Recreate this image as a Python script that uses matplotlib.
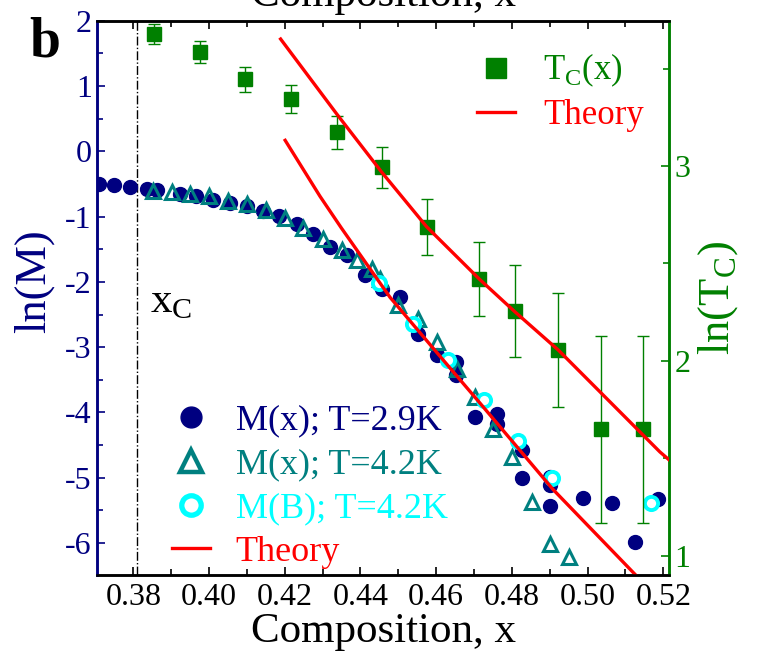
import matplotlib
matplotlib.use("Agg")
import matplotlib.pyplot as plt
from matplotlib.lines import Line2D
from matplotlib.ticker import MultipleLocator

plt.rcParams['font.family'] = ['Liberation Serif', 'DejaVu Serif']
plt.rcParams['mathtext.fontset'] = 'custom'
plt.rcParams['mathtext.rm'] = 'Liberation Serif'
plt.rcParams['axes.unicode_minus'] = False

# M(x) at T = 2.9 K
x_m29 = [0.3708, 0.3749, 0.3791, 0.3835, 0.3862, 0.3923, 0.3966, 0.4011, 0.4054,
         0.4100, 0.4143, 0.4185, 0.4232, 0.4275, 0.4320, 0.4364, 0.4412, 0.4456,
         0.4504, 0.4553, 0.4601, 0.4652, 0.4652, 0.4703, 0.4760, 0.4760, 0.4826,
         0.4826, 0.4901, 0.4901, 0.4901, 0.4987, 0.5064, 0.5125, 0.5187]
lnm_29 = [-0.495, -0.521, -0.547, -0.574, -0.597, -0.648, -0.685, -0.740, -0.792,
          -0.842, -0.919, -0.995, -1.107, -1.260, -1.466, -1.593, -1.899, -2.103,
          -2.231, -2.792, -3.124, -3.227, -3.430, -4.069, -4.017, -4.170, -4.579,
          -4.997, -4.988, -5.115, -5.432, -5.303, -5.386, -5.983, -5.319]

# M(x) at T = 4.2 K
x_m42 = [0.3851, 0.3901, 0.3950, 0.4000, 0.4049, 0.4100, 0.4150, 0.4201, 0.4249,
         0.4302, 0.4350, 0.4390, 0.4430, 0.4452, 0.4500, 0.4553, 0.4601, 0.4654,
         0.4703, 0.4751, 0.4800, 0.4852, 0.4901, 0.4951]
lnm_42 = [-0.613, -0.623, -0.648, -0.685, -0.761, -0.812, -0.904, -1.018, -1.172,
          -1.337, -1.516, -1.669, -1.796, -1.949, -2.358, -2.562, -2.920, -3.328,
          -3.763, -4.247, -4.681, -5.371, -6.008, -6.213]

# M(B) at T = 4.2 K
x_mb = [0.4448, 0.4540, 0.4632, 0.4726, 0.4817, 0.4907, 0.5167]
lnm_b = [-2.014, -2.639, -3.200, -3.813, -4.441, -4.997, -5.380]

# Tc(x) with error bars (right axis)
x_tc = [0.3855, 0.3976, 0.4095, 0.4217, 0.4338, 0.4456, 0.4575, 0.4714,
        0.4808, 0.4923, 0.5035, 0.5147]
lntc = [3.678, 3.587, 3.445, 3.345, 3.173, 2.993, 2.688, 2.420,
        2.256, 2.055, 1.650, 1.650]
lntc_err = [0.05, 0.057, 0.066, 0.073, 0.086, 0.106, 0.144, 0.19,
            0.234, 0.294, 0.48, 0.48]

# theory curves
x_th_m = [0.4201, 0.4293, 0.4350, 0.4478, 0.4601, 0.4716, 0.4909, 0.5127]
lnm_th = [0.168, -0.689, -1.179, -2.236, -3.078, -3.859, -5.181, -6.49]
x_th_tc = [0.4189, 0.4337, 0.4456, 0.4575, 0.4714, 0.4808, 0.4923, 0.5191, 0.5216]
lntc_th = [3.652, 3.268, 2.969, 2.688, 2.420, 2.252, 2.055, 1.533, 1.491]

x_crit = 0.381

navy = '#000080'
teal = '#008080'
cyan = '#00ffff'
green = '#008000'
red = '#ff0000'

fig = plt.figure(figsize=(7.57, 6.64), dpi=100)
ax = fig.add_axes([0.1277, 0.134, 0.7565, 0.8348])
ax2 = ax.twinx()

ax.axvline(x_crit, color='black', lw=1, ls='-.', zorder=1)
ax.plot(x_m29, lnm_29, 'o', color=navy, ms=10, zorder=3)
ax.plot(x_m42, lnm_42, '^', mfc='none', mec=teal, mew=2.2, ms=10.5, zorder=4)
ax.plot(x_mb, lnm_b, 'o', mfc='white', mec=cyan, mew=2.8, ms=9.5, zorder=5)
ax.plot(x_th_m, lnm_th, '-', color=red, lw=2.4, zorder=6)

ax2.errorbar(x_tc, lntc, yerr=lntc_err, fmt='s', color=green, ms=9.5,
             ecolor=green, elinewidth=1, capsize=4, capthick=1, zorder=3)
ax2.plot(x_th_tc, lntc_th, '-', color=red, lw=2.4, zorder=6)

ax.set_xlim(0.3703, 0.5216)
ax.set_ylim(-6.49, 2.0)
ax2.set_ylim(0.901, 3.746)

ax.xaxis.set_minor_locator(MultipleLocator(0.01))
ax.yaxis.set_major_locator(MultipleLocator(1))
ax.yaxis.set_minor_locator(MultipleLocator(0.5))
ax2.yaxis.set_major_locator(MultipleLocator(1))
ax2.yaxis.set_minor_locator(MultipleLocator(0.5))
ax.set_xticks([0.38, 0.40, 0.42, 0.44, 0.46, 0.48, 0.50, 0.52])
ax.set_xticklabels(['0.38', '0.40', '0.42', '0.44', '0.46', '0.48', '0.50', '0.52'])

ax.tick_params(axis='x', which='both', direction='in', top=True, labelsize=23,
               colors='black', pad=6)
ax.tick_params(axis='x', which='major', length=6, width=1.2)
ax.tick_params(axis='x', which='minor', length=4, width=1.2)
ax.tick_params(axis='y', which='both', direction='in', colors=navy, labelsize=23)
ax.tick_params(axis='y', which='major', length=6, width=1.2)
ax.tick_params(axis='y', which='minor', length=4, width=1.2)
ax2.tick_params(axis='y', which='both', direction='in', colors=green, labelsize=23)
ax2.tick_params(axis='y', which='major', length=6, width=1.2)
ax2.tick_params(axis='y', which='minor', length=4, width=1.2)

for a in (ax, ax2):
    a.spines['left'].set_color(navy)
    a.spines['right'].set_color(green)
    a.spines['top'].set_color('black')
    a.spines['bottom'].set_color('black')
    for s in a.spines.values():
        s.set_linewidth(1.8)

ax.set_xlabel('Composition, x', fontsize=31, labelpad=0)
ax.set_ylabel('ln(M)', fontsize=32, color=navy)
ax.yaxis.set_label_coords(-0.075, 0.53)
ax2.set_ylabel(r'ln(T$_\mathrm{C}$)', fontsize=32, color=green, labelpad=4)

ax.text(0.3843, -2.3, r'x$_\mathrm{C}$', fontsize=31, va='center', ha='left')

fig.text(0.038, 0.915, 'b', fontsize=40, fontweight='bold', ha='left', va='baseline')
fig.text(383 / 757, 1 - 6 / 664, 'Composition, x', fontsize=31, ha='center',
         va='baseline')

h1 = [Line2D([], [], ls='none', marker='s', color=green, ms=14),
      Line2D([], [], color=red, lw=2.4)]
leg1 = ax2.legend(h1, [r'T$_\mathrm{C}$(x)', 'Theory'], loc='upper left',
                  bbox_to_anchor=(0.664, 0.9435), frameon=False, fontsize=25,
                  handlelength=1.1, handletextpad=0.8, labelspacing=0.28,
                  borderpad=0, borderaxespad=0, labelcolor=[green, red])

h2 = [Line2D([], [], ls='none', marker='o', color=navy, ms=15),
      Line2D([], [], ls='none', marker='^', mfc='none', mec=teal, mew=3.2, ms=16),
      Line2D([], [], ls='none', marker='o', mfc='white', mec=cyan, mew=3.8, ms=14),
      Line2D([], [], color=red, lw=2.4)]
leg2 = ax.legend(h2, ['M(x); T=2.9K', 'M(x); T=4.2K', 'M(B); T=4.2K', 'Theory'],
                 loc='upper left', bbox_to_anchor=(0.131, 0.3076), frameon=False,
                 fontsize=26, handlelength=1.05, handletextpad=0.72,
                 labelspacing=0.29, borderpad=0, borderaxespad=0,
                 labelcolor=[navy, teal, cyan, red])

fig.savefig('out.png', dpi=100)
